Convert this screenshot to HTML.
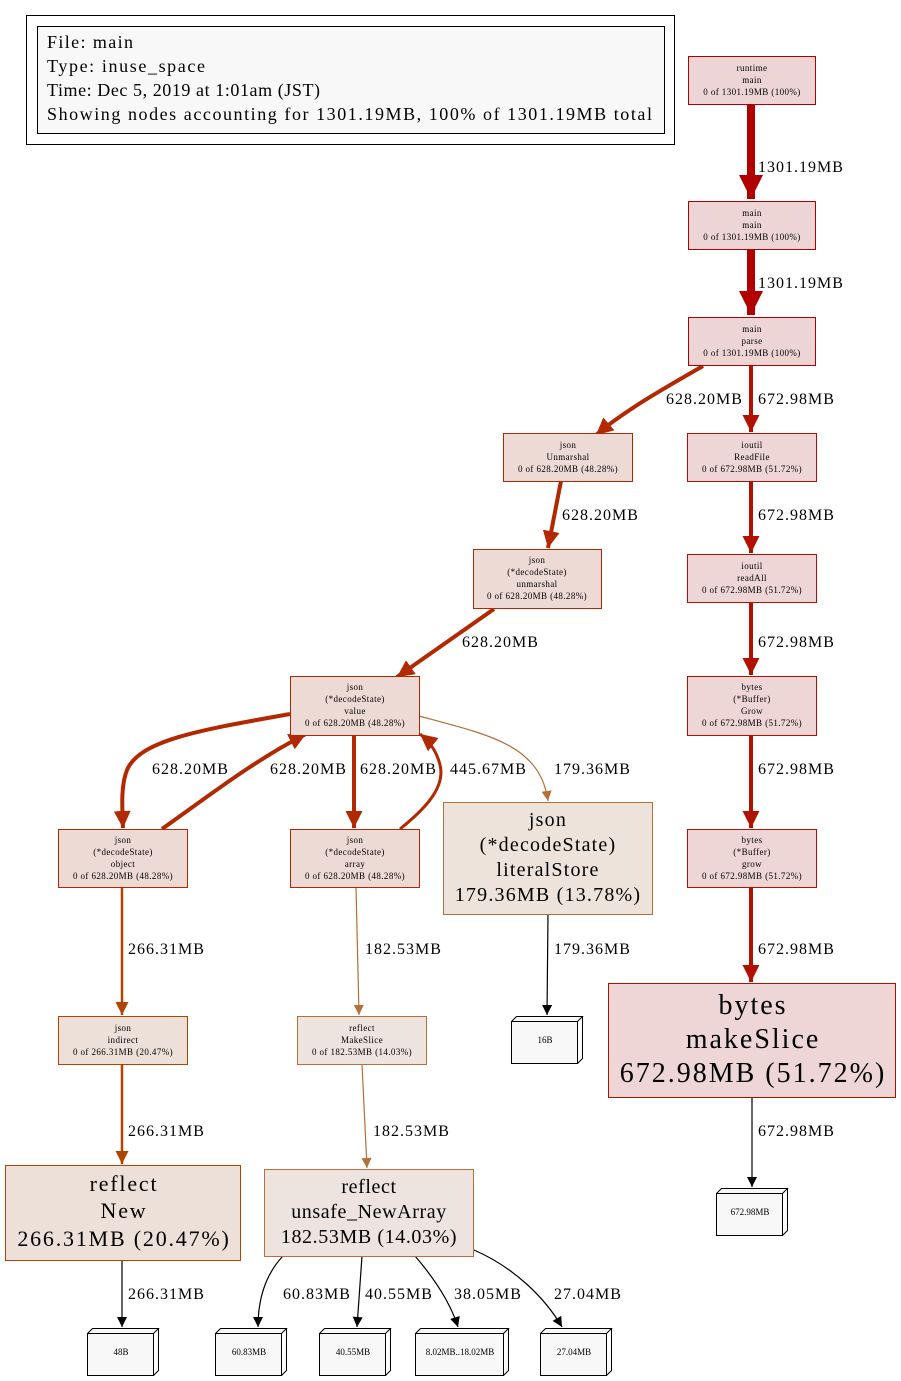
<!DOCTYPE html>
<html><head><meta charset="utf-8"><style>
html,body{margin:0;padding:0;background:#fff;}
svg{display:block;font-family:"Liberation Serif",serif;}
</style></head><body>
<svg width="901" height="1381" viewBox="0 0 901 1381" xmlns="http://www.w3.org/2000/svg">
<defs>
<marker id="aT" viewBox="0 0 10 10" refX="10" refY="5" markerUnits="userSpaceOnUse" markerWidth="24" markerHeight="26" orient="auto"><path d="M0,0L10,5L0,10z" fill="#b20000"/></marker>
<marker id="aM1" viewBox="0 0 10 10" refX="10" refY="5" markerUnits="userSpaceOnUse" markerWidth="17" markerHeight="17" orient="auto"><path d="M0,0L10,5L0,10z" fill="#b21100"/></marker>
<marker id="aM2" viewBox="0 0 10 10" refX="10" refY="5" markerUnits="userSpaceOnUse" markerWidth="17" markerHeight="17" orient="auto"><path d="M0,0L10,5L0,10z" fill="#b22800"/></marker>
<marker id="aW" viewBox="0 0 10 10" refX="10" refY="5" markerUnits="userSpaceOnUse" markerWidth="13" markerHeight="13" orient="auto"><path d="M0,0L10,5L0,10z" fill="#b24400"/></marker>
<marker id="aL" viewBox="0 0 10 10" refX="10" refY="5" markerUnits="userSpaceOnUse" markerWidth="11" markerHeight="10" orient="auto"><path d="M0,0L10,5L0,10z" fill="#b2703a"/></marker>
<marker id="aK" viewBox="0 0 10 10" refX="10" refY="5" markerUnits="userSpaceOnUse" markerWidth="11" markerHeight="10" orient="auto"><path d="M0,0L10,5L0,10z" fill="#000"/></marker>
</defs>

<!-- legend -->
<rect x="26.5" y="15.5" width="648" height="129" fill="#fff" stroke="#000"/>
<rect x="37.5" y="26.5" width="627" height="107" fill="#f8f8f8" stroke="#000"/>
<g font-size="18" fill="#000">
<text x="47" y="48" textLength="86" lengthAdjust="spacing">File: main</text>
<text x="47" y="72" textLength="158" lengthAdjust="spacing">Type: inuse_space</text>
<text x="47" y="96" textLength="273" lengthAdjust="spacing">Time: Dec 5, 2019 at 1:01am (JST)</text>
<text x="47" y="120" textLength="605" lengthAdjust="spacing">Showing nodes accounting for 1301.19MB, 100% of 1301.19MB total</text>
</g>

<!-- edges -->
<g fill="none">
<path d="M751,104V199" stroke="#b20000" stroke-width="8" marker-end="url(#aT)"/>
<path d="M751,249V315" stroke="#b20000" stroke-width="8" marker-end="url(#aT)"/>
<path d="M703,366C670,385 625,410 596,435" stroke="#b22800" stroke-width="4" marker-end="url(#aM2)"/>
<path d="M751,365V432" stroke="#b21100" stroke-width="4" marker-end="url(#aM1)"/>
<path d="M561,481L548,548" stroke="#b22800" stroke-width="4" marker-end="url(#aM2)"/>
<path d="M751,481V553" stroke="#b21100" stroke-width="4" marker-end="url(#aM1)"/>
<path d="M494,609L397,677" stroke="#b22800" stroke-width="4" marker-end="url(#aM2)"/>
<path d="M751,602V675" stroke="#b21100" stroke-width="4" marker-end="url(#aM1)"/>
<path d="M751,735V828" stroke="#b21100" stroke-width="4" marker-end="url(#aM1)"/>
<path d="M751,887V982" stroke="#b21100" stroke-width="4" marker-end="url(#aM1)"/>
<path d="M290,714C200,730 140,740 127,770C121,785 122,805 123,828" stroke="#b22800" stroke-width="4" marker-end="url(#aM2)"/>
<path d="M162,829C210,795 255,760 306,734" stroke="#b22800" stroke-width="4" marker-end="url(#aM2)"/>
<path d="M354,735V828" stroke="#b22800" stroke-width="4" marker-end="url(#aM2)"/>
<path d="M400,829C430,805 445,785 440,765C437,752 430,742 420,734" stroke="#b22800" stroke-width="3" marker-end="url(#aM2)"/>
<path d="M419,716C490,735 540,745 548,801" stroke="#b2703a" stroke-width="1.2" marker-end="url(#aL)"/>
<path d="M122,887V1015" stroke="#b24400" stroke-width="2.5" marker-end="url(#aW)"/>
<path d="M356,887L359,1015" stroke="#b2703a" stroke-width="1.2" marker-end="url(#aL)"/>
<path d="M548,914L547,1015" stroke="#000" stroke-width="1.2" marker-end="url(#aK)"/>
<path d="M752,1097V1187" stroke="#000" stroke-width="1.2" marker-end="url(#aK)"/>
<path d="M122,1064V1164" stroke="#b24400" stroke-width="2.5" marker-end="url(#aW)"/>
<path d="M362,1064L367,1168" stroke="#b2703a" stroke-width="1.2" marker-end="url(#aL)"/>
<path d="M122,1260V1327" stroke="#000" stroke-width="1.2" marker-end="url(#aK)"/>
<path d="M283,1256C265,1275 258,1300 258,1327" stroke="#000" stroke-width="1.2" marker-end="url(#aK)"/>
<path d="M362,1256L357,1327" stroke="#000" stroke-width="1.2" marker-end="url(#aK)"/>
<path d="M415,1256C440,1285 452,1308 458,1327" stroke="#000" stroke-width="1.2" marker-end="url(#aK)"/>
<path d="M474,1250C515,1268 545,1298 562,1327" stroke="#000" stroke-width="1.2" marker-end="url(#aK)"/>
</g>

<!-- edge labels -->
<g font-size="16" fill="#000" letter-spacing="1">
<text x="758" y="172">1301.19MB</text>
<text x="758" y="288">1301.19MB</text>
<text x="666" y="404">628.20MB</text>
<text x="758" y="404">672.98MB</text>
<text x="562" y="520">628.20MB</text>
<text x="758" y="520">672.98MB</text>
<text x="462" y="647">628.20MB</text>
<text x="758" y="647">672.98MB</text>
<text x="152" y="774">628.20MB</text>
<text x="270" y="774">628.20MB</text>
<text x="360" y="774">628.20MB</text>
<text x="450" y="774">445.67MB</text>
<text x="554" y="774">179.36MB</text>
<text x="758" y="774">672.98MB</text>
<text x="128" y="954">266.31MB</text>
<text x="365" y="954">182.53MB</text>
<text x="554" y="954">179.36MB</text>
<text x="758" y="954">672.98MB</text>
<text x="128" y="1136">266.31MB</text>
<text x="373" y="1136">182.53MB</text>
<text x="758" y="1136">672.98MB</text>
<text x="128" y="1299">266.31MB</text>
<text x="283" y="1299">60.83MB</text>
<text x="365" y="1299">40.55MB</text>
<text x="454" y="1299">38.05MB</text>
<text x="554" y="1299">27.04MB</text>
</g>

<!-- small nodes -->
<g font-size="9" text-anchor="middle" fill="#000" letter-spacing="0.4">
<rect x="688.5" y="56.5" width="127" height="48" fill="#edd5d5" stroke="#b20000"/>
<text x="752" y="71">runtime</text><text x="752" y="83">main</text><text x="752" y="95">0 of 1301.19MB (100%)</text>
<rect x="688.5" y="201.5" width="127" height="48" fill="#edd5d5" stroke="#b20000"/>
<text x="752" y="216">main</text><text x="752" y="228">main</text><text x="752" y="240">0 of 1301.19MB (100%)</text>
<rect x="688.5" y="317.5" width="127" height="48" fill="#edd5d5" stroke="#b20000"/>
<text x="752" y="332">main</text><text x="752" y="344">parse</text><text x="752" y="356">0 of 1301.19MB (100%)</text>

<rect x="503.5" y="433.5" width="129" height="48" fill="#eddad5" stroke="#b22800"/>
<text x="568" y="448">json</text><text x="568" y="460">Unmarshal</text><text x="568" y="472">0 of 628.20MB (48.28%)</text>
<rect x="687.5" y="433.5" width="129" height="48" fill="#edd6d5" stroke="#b21100"/>
<text x="752" y="448">ioutil</text><text x="752" y="460">ReadFile</text><text x="752" y="472">0 of 672.98MB (51.72%)</text>

<rect x="473.5" y="549.5" width="128" height="59" fill="#eddad5" stroke="#b22800"/>
<text x="537" y="563">json</text><text x="537" y="575">(*decodeState)</text><text x="537" y="587">unmarshal</text><text x="537" y="599">0 of 628.20MB (48.28%)</text>
<rect x="687.5" y="554.5" width="129" height="48" fill="#edd6d5" stroke="#b21100"/>
<text x="752" y="569">ioutil</text><text x="752" y="581">readAll</text><text x="752" y="593">0 of 672.98MB (51.72%)</text>

<rect x="290.5" y="676.5" width="129" height="59" fill="#eddad5" stroke="#b22800"/>
<text x="355" y="690">json</text><text x="355" y="702">(*decodeState)</text><text x="355" y="714">value</text><text x="355" y="726">0 of 628.20MB (48.28%)</text>
<rect x="687.5" y="676.5" width="129" height="59" fill="#edd6d5" stroke="#b21100"/>
<text x="752" y="690">bytes</text><text x="752" y="702">(*Buffer)</text><text x="752" y="714">Grow</text><text x="752" y="726">0 of 672.98MB (51.72%)</text>

<rect x="58.5" y="829.5" width="129" height="58" fill="#eddad5" stroke="#b22800"/>
<text x="123" y="843">json</text><text x="123" y="855">(*decodeState)</text><text x="123" y="867">object</text><text x="123" y="879">0 of 628.20MB (48.28%)</text>
<rect x="290.5" y="829.5" width="129" height="58" fill="#eddad5" stroke="#b22800"/>
<text x="355" y="843">json</text><text x="355" y="855">(*decodeState)</text><text x="355" y="867">array</text><text x="355" y="879">0 of 628.20MB (48.28%)</text>
<rect x="687.5" y="829.5" width="129" height="58" fill="#edd6d5" stroke="#b21100"/>
<text x="752" y="843">bytes</text><text x="752" y="855">(*Buffer)</text><text x="752" y="867">grow</text><text x="752" y="879">0 of 672.98MB (51.72%)</text>

<rect x="58.5" y="1016.5" width="129" height="48" fill="#ede0d8" stroke="#b24400"/>
<text x="123" y="1031">json</text><text x="123" y="1043">indirect</text><text x="123" y="1055">0 of 266.31MB (20.47%)</text>
<rect x="297.5" y="1016.5" width="129" height="48" fill="#ede3df" stroke="#b2703a"/>
<text x="362" y="1031">reflect</text><text x="362" y="1043">MakeSlice</text><text x="362" y="1055">0 of 182.53MB (14.03%)</text>
</g>

<!-- big nodes -->
<g text-anchor="middle" fill="#000">
<rect x="443.5" y="802.5" width="209" height="112" fill="#ede3db" stroke="#b2703a"/>
<g font-size="20" letter-spacing="1.2"><text x="548" y="826">json</text><text x="548" y="851">(*decodeState)</text><text x="548" y="876">literalStore</text><text x="548" y="901">179.36MB (13.78%)</text></g>
<rect x="608.5" y="983.5" width="287" height="114" fill="#edd6d5" stroke="#b21100"/>
<g font-size="28" letter-spacing="2"><text x="753" y="1014">bytes</text><text x="753" y="1048">makeSlice</text><text x="753" y="1082">672.98MB (51.72%)</text></g>
<rect x="5.5" y="1165.5" width="235" height="95" fill="#ede0d8" stroke="#b24400"/>
<g font-size="22" letter-spacing="1.8"><text x="124" y="1191">reflect</text><text x="124" y="1218">New</text><text x="124" y="1246">266.31MB (20.47%)</text></g>
<rect x="264.5" y="1169.5" width="209" height="87" fill="#ede3df" stroke="#b2703a"/>
<g font-size="20" letter-spacing="0.6"><text x="369" y="1193">reflect</text><text x="369" y="1218">unsafe_NewArray</text><text x="369" y="1243">182.53MB (14.03%)</text></g>
</g>

<!-- 3D boxes -->
<g fill="#f8f8f8" stroke="#000" stroke-width="1">
<g transform="translate(511,1016)"><path d="M0.5,5.5H66.5V47.5H0.5Z M0.5,5.5L5.5,0.5H71.5L66.5,5.5 M66.5,47.5L71.5,42.5V0.5"/></g>
<g transform="translate(716,1188)"><path d="M0.5,5.5H66.5V47.5H0.5Z M0.5,5.5L5.5,0.5H71.5L66.5,5.5 M66.5,47.5L71.5,42.5V0.5"/></g>
<g transform="translate(87,1328)"><path d="M0.5,5.5H66.5V47.5H0.5Z M0.5,5.5L5.5,0.5H71.5L66.5,5.5 M66.5,47.5L71.5,42.5V0.5"/></g>
<g transform="translate(215,1328)"><path d="M0.5,5.5H66.5V47.5H0.5Z M0.5,5.5L5.5,0.5H71.5L66.5,5.5 M66.5,47.5L71.5,42.5V0.5"/></g>
<g transform="translate(319,1328)"><path d="M0.5,5.5H66.5V47.5H0.5Z M0.5,5.5L5.5,0.5H71.5L66.5,5.5 M66.5,47.5L71.5,42.5V0.5"/></g>
<g transform="translate(415,1328)"><path d="M0.5,5.5H88.5V47.5H0.5Z M0.5,5.5L5.5,0.5H93.5L88.5,5.5 M88.5,47.5L93.5,42.5V0.5"/></g>
<g transform="translate(540,1328)"><path d="M0.5,5.5H66.5V47.5H0.5Z M0.5,5.5L5.5,0.5H71.5L66.5,5.5 M66.5,47.5L71.5,42.5V0.5"/></g>
</g>
<g font-size="9" text-anchor="middle" fill="#000">
<text x="545" y="1043">16B</text>
<text x="750" y="1215">672.98MB</text>
<text x="121" y="1355">48B</text>
<text x="249" y="1355">60.83MB</text>
<text x="353" y="1355">40.55MB</text>
<text x="460" y="1355">8.02MB..18.02MB</text>
<text x="574" y="1355">27.04MB</text>
</g>
</svg>
</body></html>
